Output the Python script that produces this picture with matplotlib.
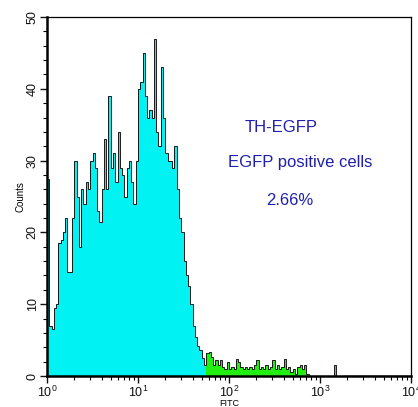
import numpy as np
import matplotlib
matplotlib.use("Agg")
import matplotlib.pyplot as plt
from matplotlib.ticker import LogLocator, LogFormatterMathtext, MultipleLocator, NullFormatter

# histogram: log10(FITC) bins of 0.025 decade starting at 10^0
bin_width_log = 0.025
counts = [
    27.5, 7, 6.5, 9.5, 10, 18.5, 19, 20, 22, 14.5,
    14.5, 22, 30, 25, 18, 26, 24, 27, 26, 30,
    31, 29, 23, 21.5, 26, 33, 26, 39, 29, 31,
    27, 34, 29, 28, 25, 29, 30, 27, 24, 30,
    40, 41, 45, 39, 36, 37, 36, 47, 34, 32,
    43, 36, 31, 30, 30, 29, 32, 26, 22, 20,
    16, 14, 12.5, 10, 7, 5.5, 4.2, 3.6, 2.5, 1.5,
    3.2, 3.4, 2.6, 1.6, 2.2, 1.5, 2.2, 1.3, 1.0, 2.0,
    1.0, 1.3, 1.0, 2.4, 2.0, 1.3, 1.0, 1.3, 1.0, 1.3,
    1.0, 1.5, 2.2, 1.0, 1.3, 1.0, 1.5, 1.0, 1.3, 2.2,
    1.0, 1.5, 1.0, 1.3, 2.3, 1.0, 1.3, 0.5, 1.0, 0.3,
    1.3, 1.5, 1.0, 1.5, 0.3, 0, 0, 0, 0, 0,
    0, 0, 0, 0, 0, 0, 1.5, 0, 0, 0,
]
gate_bin = 70  # first bin of the EGFP-positive gate

texts = ["TH-EGFP", "EGFP positive cells", "2.66%"]
xlabel = "FITC"
ylabel = "Counts"

counts = np.array(counts, dtype=float)
edges = 10 ** (np.arange(len(counts) + 1) * bin_width_log)

fig = plt.figure(figsize=(4.18, 4.07), dpi=100)
ax = fig.add_axes([47/418, 1-376/407, (411-47)/418, (376-17)/407])

ax.stairs(counts[:gate_bin], edges[:gate_bin+1], fill=True, color="#00f2f2", baseline=0)
ax.stairs(counts[gate_bin:], edges[gate_bin:], fill=True, color="#22ee11", baseline=0)
ax.stairs(counts, edges, fill=False, color="#1a1a1a", linewidth=0.7, baseline=0)
ax.plot([edges[-1], 1e4], [0, 0], color="#111111", lw=1)

ax.set_xscale("log")
ax.set_xlim(1, 1e4)
ax.set_ylim(0, 50)
ax.xaxis.set_major_locator(LogLocator(base=10, numticks=10))
ax.xaxis.set_major_formatter(LogFormatterMathtext())
ax.xaxis.set_minor_locator(LogLocator(base=10, subs=np.arange(2, 10), numticks=20))
ax.xaxis.set_minor_formatter(NullFormatter())
ax.yaxis.set_major_locator(MultipleLocator(10))
ax.yaxis.set_minor_locator(MultipleLocator(2))

for lab in ax.get_yticklabels():
    lab.set_rotation(90)
    lab.set_va("center")
ax.tick_params(axis="both", which="major", labelsize=9, length=5, width=1, direction="out", pad=1, colors="#111111")
ax.tick_params(axis="both", which="minor", length=3, width=0.8, direction="out")
for lab in ax.get_yticklabels():
    lab.set_family("Liberation Sans")
for lab in ax.get_xticklabels():
    lab.set_family("Liberation Sans")

ax.spines["left"].set_linewidth(1.8)
ax.spines["bottom"].set_linewidth(1.8)
ax.spines["top"].set_linewidth(0.9)
ax.spines["right"].set_linewidth(0.9)

ax.set_xlabel(xlabel, fontsize=6.5, family="Liberation Sans", va="center")
ax.xaxis.set_label_coords(0.5, (376 - 403) / 359)
ax.set_ylabel(ylabel, fontsize=7, family="Liberation Sans", labelpad=1)

blue = "#1f1fb0"
fig.text(281/418, 1-128/407, texts[0], color=blue, fontsize=12, family="Liberation Sans", ha="center", va="center")
fig.text(300/418, 1-163/407, texts[1], color=blue, fontsize=12, family="Liberation Sans", ha="center", va="center")
fig.text(290/418, 1-200/407, texts[2], color=blue, fontsize=12, family="Liberation Sans", ha="center", va="center")

fig.savefig("out.png", dpi=100)
